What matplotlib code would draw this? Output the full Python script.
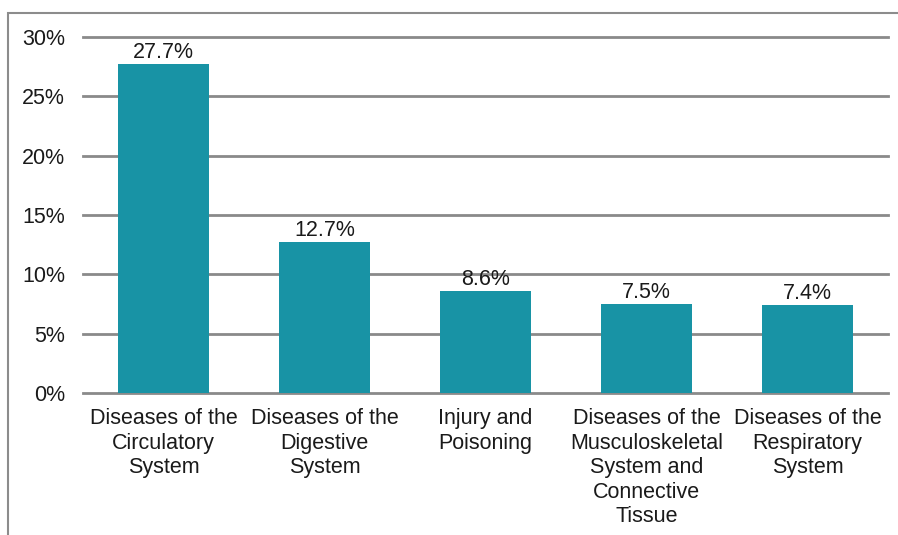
import matplotlib.pyplot as plt
from matplotlib.patches import Rectangle

plt.rcParams['font.family'] = ['Liberation Sans', 'DejaVu Sans']

# leading causes, share of total (%)
categories = ['Diseases of the\nCirculatory\nSystem',
              'Diseases of the\nDigestive\nSystem',
              'Injury and\nPoisoning',
              'Diseases of the\nMusculoskeletal\nSystem and\nConnective\nTissue',
              'Diseases of the\nRespiratory\nSystem']
shares = [27.7, 12.7, 8.6, 7.5, 7.4]
yticks = [0, 5, 10, 15, 20, 25, 30]

bar_color = '#1893a5'
grid_color = '#8a8a8a'
fs = 15.5

fig = plt.figure(figsize=(8.98, 5.35), dpi=100)
ax = fig.add_axes([83 / 898, 1 - 393 / 535, 805 / 898, 356 / 535])

# frame around the chart area
fig.patches.append(Rectangle((8 / 898, -0.1), 1.2, 1 - 13 / 535 + 0.1,
                             transform=fig.transFigure, fill=False,
                             edgecolor='#8c8c8c', linewidth=1.5))

x = range(len(categories))
ax.bar(x, shares, width=0.57, color=bar_color, zorder=3)
for xi, v in zip(x, shares):
    ax.text(xi, v + 0.1, f'{v}%', ha='center', va='bottom', fontsize=fs,
            color='#1a1a1a', zorder=4)

ax.set_xlim(-0.5, len(categories) - 0.5)
ax.set_ylim(0, 30)
ax.set_yticks(yticks)
ax.set_yticklabels([f'{t}%' for t in yticks], fontsize=fs, color='#1a1a1a')
ax.set_xticks(list(x))
ax.set_xticklabels(categories, fontsize=fs, color='#1a1a1a', linespacing=1.22)
ax.tick_params(axis='both', length=0)
ax.tick_params(axis='y', pad=13)
ax.tick_params(axis='x', pad=11)

for t in yticks:
    ax.axhline(t, color=grid_color, linewidth=2, zorder=1, clip_on=False)
for s in ax.spines.values():
    s.set_visible(False)

fig.savefig('out.png', dpi=100)
